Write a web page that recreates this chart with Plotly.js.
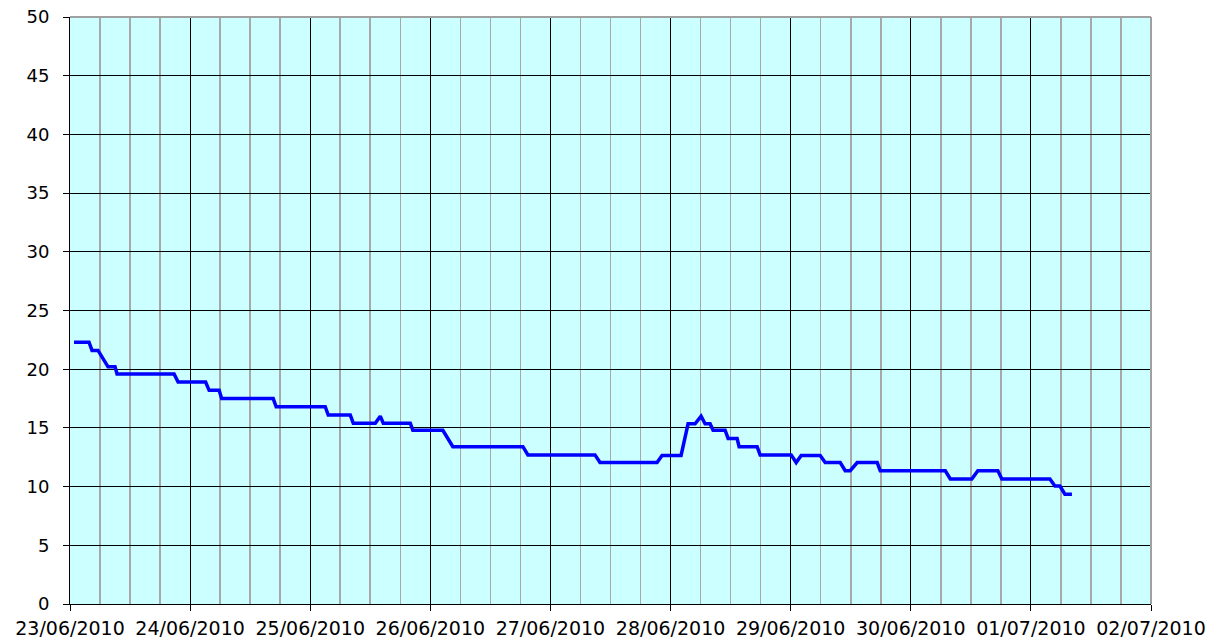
<!DOCTYPE html>
<html>
<head>
<meta charset="utf-8">
<script src="https://cdn.plot.ly/plotly-3.0.1.min.js"></script>
<style>
  html, body { margin: 0; padding: 0; background: #ffffff; }
  #chart { width: 1221px; height: 644px; }
</style>
</head>
<body>
<div id="chart"></div>
<script>
// Timestamps of the readings
const times = [
  '2010-06-23 00:48', '2010-06-23 03:48', '2010-06-23 04:24', '2010-06-23 05:36',
  '2010-06-23 07:36', '2010-06-23 09:00', '2010-06-23 09:24', '2010-06-23 20:48',
  '2010-06-23 21:36', '2010-06-24 03:06', '2010-06-24 03:48', '2010-06-24 05:48',
  '2010-06-24 06:18', '2010-06-24 16:36', '2010-06-24 17:12', '2010-06-25 03:00',
  '2010-06-25 03:36', '2010-06-25 08:00', '2010-06-25 08:36', '2010-06-25 13:00',
  '2010-06-25 14:00', '2010-06-25 14:36', '2010-06-25 20:00', '2010-06-25 20:30',
  '2010-06-26 02:30', '2010-06-26 04:30', '2010-06-26 18:30', '2010-06-26 19:30',
  '2010-06-27 08:54', '2010-06-27 09:54', '2010-06-27 21:18', '2010-06-27 22:18',
  '2010-06-28 02:06', '2010-06-28 03:30', '2010-06-28 04:54', '2010-06-28 06:06',
  '2010-06-28 06:54', '2010-06-28 07:54', '2010-06-28 08:30', '2010-06-28 10:54',
  '2010-06-28 11:30', '2010-06-28 13:18', '2010-06-28 13:42', '2010-06-28 17:18',
  '2010-06-28 17:54', '2010-06-29 00:06', '2010-06-29 01:06', '2010-06-29 02:06',
  '2010-06-29 05:54', '2010-06-29 06:54', '2010-06-29 09:54', '2010-06-29 10:54',
  '2010-06-29 11:54', '2010-06-29 13:18', '2010-06-29 17:18', '2010-06-29 17:54',
  '2010-06-30 06:54', '2010-06-30 07:54', '2010-06-30 12:12', '2010-06-30 13:24',
  '2010-06-30 17:24', '2010-06-30 18:12', '2010-07-01 03:48', '2010-07-01 04:48',
  '2010-07-01 05:48', '2010-07-01 06:48', '2010-07-01 08:12'
];

// Reading values
const values = [
  22.3, 22.3, 21.6, 21.6,
  20.2, 20.2, 19.6, 19.6,
  18.9, 18.9, 18.2, 18.2,
  17.5, 17.5, 16.8, 16.8,
  16.1, 16.1, 15.4, 15.4,
  16.0, 15.4, 15.4, 14.8,
  14.8, 13.4, 13.4, 12.7,
  12.7, 12.05, 12.05, 12.65,
  12.65, 15.35, 15.35, 16.0,
  15.35, 15.35, 14.8, 14.8,
  14.1, 14.1, 13.4, 13.4,
  12.7, 12.7, 12.05, 12.65,
  12.65, 12.05, 12.05, 11.35,
  11.35, 12.05, 12.05, 11.35,
  11.35, 10.65, 10.65, 11.35,
  11.35, 10.65, 10.65, 10.05,
  10.05, 9.35, 9.35
];

// Axis settings data
const xStart = '2010-06-23';
const xEnd = '2010-07-02';
const yTickVals = [0, 5, 10, 15, 20, 25, 30, 35, 40, 45, 50];

const trace = {
  x: times,
  y: values,
  type: 'scatter',
  mode: 'lines',
  line: { color: '#0000FF', width: 3.5 },
  hoverinfo: 'skip'
};

const fontFam = 'Verdana, "DejaVu Sans", sans-serif';

const layout = {
  width: 1221,
  height: 644,
  margin: { l: 70, r: 70, t: 17, b: 40, pad: 0 },
  paper_bgcolor: '#ffffff',
  plot_bgcolor: '#CCFFFF',
  showlegend: false,
  font: { family: fontFam, size: 18, color: '#000000' },
  xaxis: {
    type: 'date',
    range: [xStart, xEnd],
    tick0: xStart,
    dtick: 86400000,
    tickformat: '%d/%m/%Y',
    showgrid: true,
    gridcolor: '#000000',
    gridwidth: 1,
    showline: true,
    linecolor: '#000000',
    linewidth: 1,
    ticks: 'outside',
    ticklen: 6,
    tickcolor: '#000000',
    tickfont: { family: fontFam, size: 19, color: '#000000' },
    ticklabelstandoff: 1,
    zeroline: false,
    fixedrange: true,
    minor: {
      dtick: 6 * 3600000,
      showgrid: true,
      gridcolor: '#A8A8A8',
      gridwidth: 1.6,
      ticks: ''
    }
  },
  yaxis: {
    range: [0, 50],
    tickvals: yTickVals,
    showgrid: true,
    gridcolor: '#000000',
    gridwidth: 1,
    showline: true,
    linecolor: '#000000',
    linewidth: 1,
    ticks: 'outside',
    ticklen: 6,
    tickcolor: '#000000',
    tickfont: { family: fontFam, size: 18, color: '#000000' },
    ticklabelstandoff: 10,
    zeroline: false,
    fixedrange: true
  },
  shapes: [
    { type: 'line', xref: 'paper', yref: 'paper', x0: 0, x1: 1, y0: 1, y1: 1,
      line: { color: '#A0A0A0', width: 2 }, layer: 'above' },
    { type: 'line', xref: 'paper', yref: 'paper', x0: 1, x1: 1, y0: 0, y1: 1,
      line: { color: '#A0A0A0', width: 2 }, layer: 'above' }
  ]
};

Plotly.newPlot('chart', [trace], layout, { displayModeBar: false, staticPlot: true });
</script>
</body>
</html>
